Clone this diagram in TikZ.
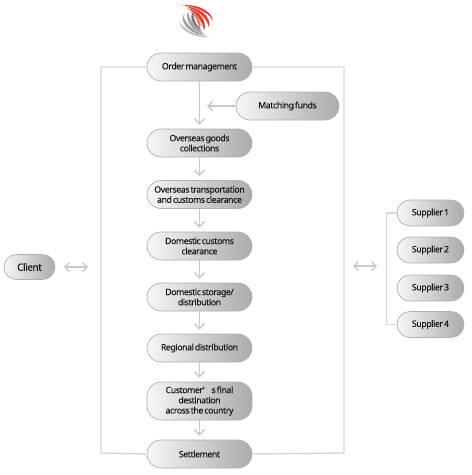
\documentclass[tikz,border=0pt]{standalone}
\usepackage{fontspec}
\setmainfont[LetterSpace=-4.5,WordSpace=0.55,FakeBold=0.12]{Noto Sans}
\usetikzlibrary{arrows.meta}
\definecolor{lineg}{HTML}{D6D6D6}
\definecolor{arrowg}{HTML}{C8C8C8}
\definecolor{edgeg}{HTML}{B0B0B0}
\definecolor{logored}{HTML}{E2402F}
\definecolor{logogrey}{HTML}{A0A0A0}
\newcommand{\swA}{(182,5) .. controls (198,4) and (212,11) .. (213,21) .. controls (209,12) and (196,7) .. cycle}
\newcommand{\swB}{(185,6.5) .. controls (199,7) and (212,16) .. (209,28) .. controls (208,18) and (196,9) .. cycle}
\newcommand{\swC}{(187,8) .. controls (198,10) and (208,20) .. (204,31) .. controls (203,21) and (195,12) .. cycle}
\newcommand{\swD}{(190,11) .. controls (197,14) and (204,24) .. (199,30) .. controls (199,23) and (195,15) .. cycle}
\tikzset{
 pill/.style={draw=edgeg,line width=0.7pt,rounded corners=14pt,left color=white!93!gray,right color=black!33,
   minimum width=#1,minimum height=28pt,inner sep=0pt,align=center,font=\fontsize{8.7}{10.2}\selectfont,text=black!90},
 pill/.default=105pt,
 frameline/.style={draw=lineg,line width=1.4pt},
 flow/.style={draw=arrowg,line width=1.6pt,shorten >=4pt,-{Straight Barb[length=5pt,width=10pt,line width=1.4pt]}},
 both/.style={draw=arrowg,line width=1.3pt,{Straight Barb[length=4.5pt,width=9pt]}-{Straight Barb[length=4.5pt,width=9pt]}},
}
\begin{document}
\begin{tikzpicture}[x=1pt,y=-1pt]
\useasboundingbox (0,0) rectangle (472,475);
\fill[white] (0,0) rectangle (472,475);
% logo
\fill[logored] \swA;
\fill[logored] \swB;
\fill[logored] \swC;
\fill[logored!70!white] \swD;
\begin{scope}[shift={(392,42)},xscale=-1,yscale=-1]
\fill[logogrey!70!white] \swA;
\fill[logogrey] \swB;
\fill[logogrey] \swC;
\fill[black!55] \swD;
\end{scope}
% frame
\coordinate (ftr) at (344,67);
\coordinate (fbr) at (344,453);
\coordinate (ftl) at (101,67);
\coordinate (fbl) at (101,453);
\node[pill] (order) at (199.5,67) {Order management};
\node[pill=103pt] (match) at (287.5,106) {Matching funds};
\node[pill] (goods) at (199.5,143) {Overseas goods\\collections};
\node[pill] (trans) at (199.5,194.5) {Overseas transportation\\and customs clearance};
\node[pill] (cust) at (199.5,246) {Domestic customs\\clearance};
\node[pill] (stor) at (199.5,297) {Domestic storage/\\distribution};
\node[pill] (reg) at (199.5,348) {Regional distribution};
\node[pill,minimum height=38pt] (final) at (199.5,401) {Customer’\hspace{7pt}s final\\destination\\across the country};
\node[pill] (settle) at (199.5,454) {Settlement};
\node[pill=51pt,minimum height=25pt,rounded corners=12.5pt,font=\fontsize{10}{11}\selectfont] (client) at (29.5,267) {Client};
\node[pill=67pt,minimum height=26pt,rounded corners=13pt] (s1) at (430.5,213) {Supplier 1};
\node[pill=67pt,minimum height=26pt,rounded corners=13pt] (s2) at (430.5,250) {Supplier 2};
\node[pill=67pt,minimum height=26pt,rounded corners=13pt] (s3) at (430.5,288) {Supplier 3};
\node[pill=67pt,minimum height=26pt,rounded corners=13pt] (s4) at (430.5,324.5) {Supplier 4};
% frame lines
\draw[frameline] (order.west) -- (ftl) -- (fbl) -- (settle.west);
\draw[frameline] (order.east) -- (ftr) -- (fbr) -- (settle.east);
\draw[frameline] (s1.west) -| (386.5,324.5) -- (s4.west);
% arrows
\draw[flow] (order) -- (goods);
\coordinate (mt) at (207,106);
\draw[flow,shorten >=0pt] (match) -- (mt);
\draw[flow] (goods) -- (trans);
\draw[flow] (trans) -- (cust);
\draw[flow] (cust) -- (stor);
\draw[flow] (stor) -- (reg);
\draw[flow] (reg) -- (final);
\draw[flow] (final) -- (settle);
\coordinate (a1) at (64,267);
\coordinate (a2) at (88,267);
\coordinate (b1) at (353,266);
\coordinate (b2) at (377,266);
\draw[both] (a1) -- (a2);
\draw[both] (b1) -- (b2);
\end{tikzpicture}
\end{document}
